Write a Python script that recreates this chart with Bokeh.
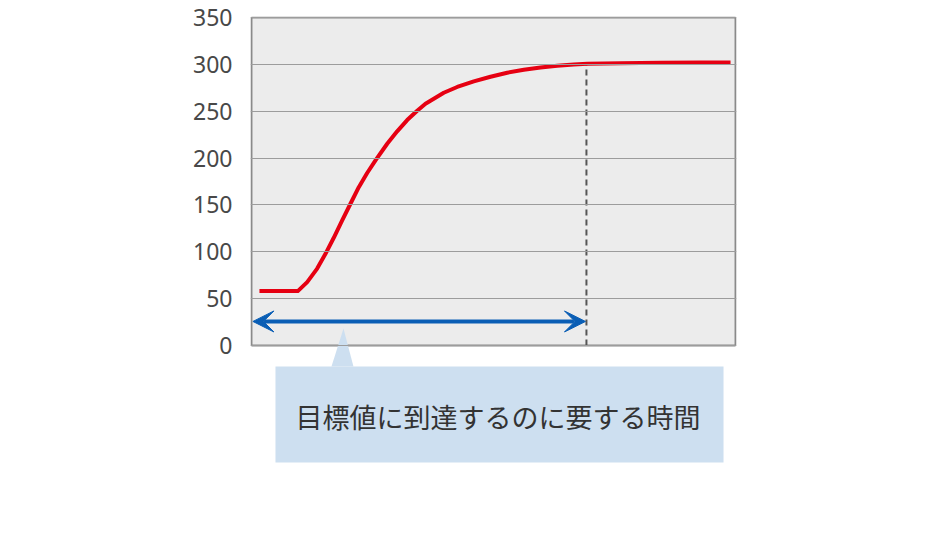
from bokeh.plotting import figure
from bokeh.models import Range1d, FixedTicker, Arrow, VeeHead
from bokeh.core.properties import value
from bokeh.embed import file_html
from bokeh.resources import INLINE

# ---- data ----
curve_x = [1.65, 9.57, 11.51, 13.57, 15.29, 17.0, 18.74, 20.45, 22.17, 23.9,
           25.62, 28.04, 30.1, 32.17, 34.24, 35.95, 39.73, 42.5, 45.93, 49.38,
           52.83, 56.26, 59.71, 63.16, 66.59, 69.36, 76.24, 84.5, 92.77, 98.97]
curve_y = [58, 58, 67.6, 82, 97.8, 114.9, 133.4, 151.2, 168.9, 184,
           197.5, 215.2, 228.5, 240.5, 250.5, 258.0, 269.6, 275.8, 281.7, 286.7,
           291, 294.2, 296.6, 298.4, 299.8, 300.6, 301.2, 301.6, 301.9, 302]
y_ticks = [0, 50, 100, 150, 200, 250, 300, 350]
target_time = 69.2          # where the dashed marker sits
target_value = 300          # target level
arrow_level = 25.6          # height of the double arrow
callout_text = "目標値に到達するのに要する時間"

X_MAX = 100
Y_MAX = 350

p = figure(width=920, height=520, output_backend="svg", toolbar_location=None,
           x_range=Range1d(-0.2, 100.2), y_range=Range1d(-134.5, 351),
           min_border_left=250, min_border_right=184, min_border_top=16,
           min_border_bottom=49)
p.background_fill_color = "white"
p.border_fill_color = "white"
p.outline_line_color = None
p.xaxis.visible = False
p.xgrid.visible = False

yax = p.yaxis[0]
yax.ticker = FixedTicker(ticks=y_ticks)
yax.axis_line_color = None
yax.major_tick_line_color = None
yax.minor_tick_line_color = None
yax.major_label_standoff = 12
yax.major_label_text_font = "Noto Sans"
yax.major_label_text_font_size = "23px"
yax.major_label_text_color = "#484848"

p.ygrid.ticker = FixedTicker(ticks=y_ticks)
p.ygrid.bounds = (0, Y_MAX)
p.ygrid.grid_line_color = "#9c9c9c"
p.ygrid.grid_line_width = 1
p.ygrid.level = "glyph"

# plot area background
p.quad(left=0, right=X_MAX, bottom=0, top=Y_MAX, fill_color="#ececec",
       line_color=None, level="image")

# frame border
border = "#8a8a8a"
p.multi_line(xs=[[0, 0], [0, X_MAX], [X_MAX, X_MAX], [0, X_MAX]],
             ys=[[0, Y_MAX], [Y_MAX, Y_MAX], [0, Y_MAX], [0, 0]],
             line_color=border, line_width=2)

# dashed marker
p.line(x=[target_time, target_time], y=[0, target_value], line_color="#555555",
       line_width=2, line_dash="6 4")

# response curve
p.line(x=curve_x, y=curve_y, line_color="#e60012", line_width=4, line_join="round")

# double arrow
blue = "#0a5eb5"
p.add_layout(Arrow(x_start=0.3, y_start=arrow_level, x_end=target_time - 0.2, y_end=arrow_level,
                   line_color=blue, line_width=4,
                   start=VeeHead(size=21, fill_color=blue, line_color=blue, line_width=1),
                   end=VeeHead(size=21, fill_color=blue, line_color=blue, line_width=1)))

# callout
callout = "#cddff0"
p.quad(left=4.96, right=97.52, bottom=-124.85, top=-22.41, fill_color=callout, line_color=None)
p.patch(x=[16.53, 19.01, 21.07], y=[-22.41, 18.14, -22.41], fill_color=callout, line_color=None)
p.text(x=[50.93], y=[-75.8], text=[callout_text], text_font=value("Noto Sans CJK JP"),
       text_font_size="27px", text_color="#333333", text_align="center",
       text_baseline="middle")

open("out.html", "w").write(file_html(p, INLINE))
